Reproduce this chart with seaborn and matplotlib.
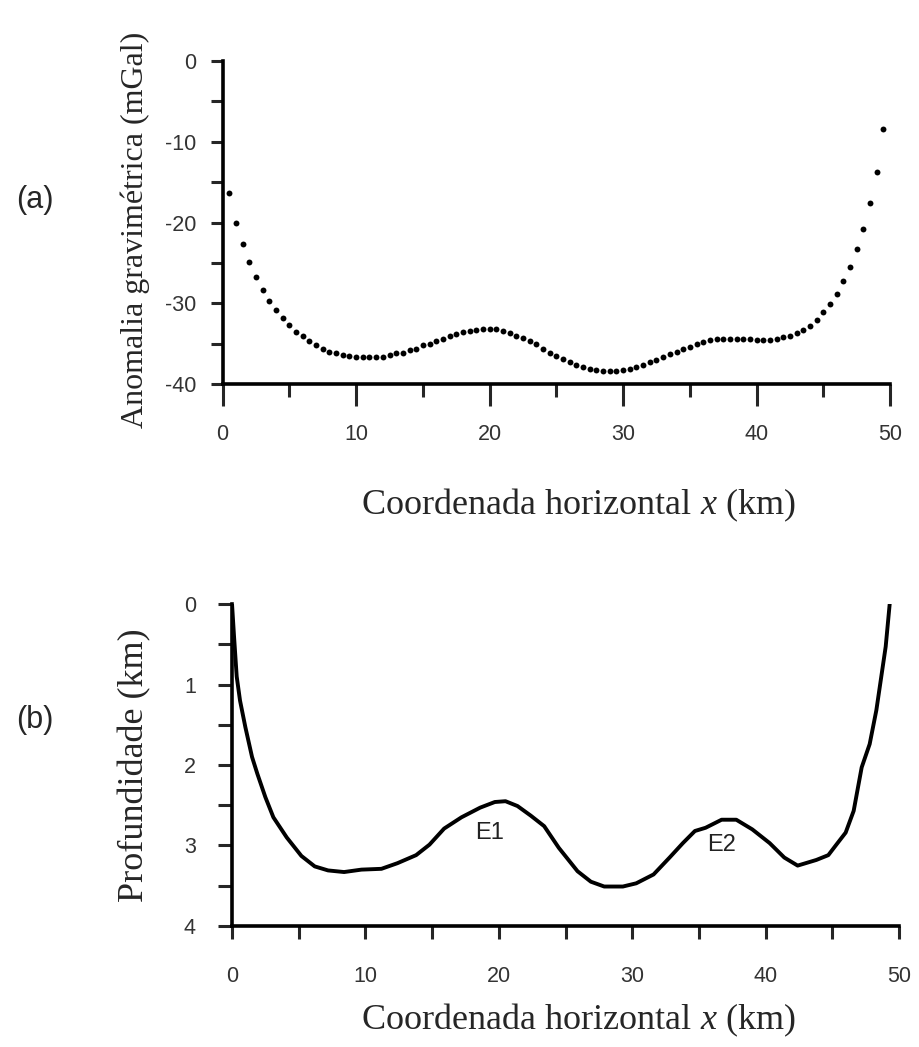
import matplotlib
matplotlib.use("Agg")
import matplotlib.pyplot as plt
import numpy as np
import pandas as pd
import seaborn as sns
from matplotlib.ticker import MultipleLocator

# ---------------- data ----------------
grav_x = [0.5, 1.0, 1.5, 2.0, 2.5, 3.0, 3.5, 4.0, 4.5, 5.0,
          5.5, 6.0, 6.5, 7.0, 7.5, 8.0, 8.5, 9.0, 9.5, 10.0,
          10.5, 11.0, 11.5, 12.0, 12.5, 13.0, 13.5, 14.0, 14.5, 15.0,
          15.5, 16.0, 16.5, 17.0, 17.5, 18.0, 18.5, 19.0, 19.5, 20.0,
          20.5, 21.0, 21.5, 22.0, 22.5, 23.0, 23.5, 24.0, 24.5, 25.0,
          25.5, 26.0, 26.5, 27.0, 27.5, 28.0, 28.5, 29.0, 29.5, 30.0,
          30.5, 31.0, 31.5, 32.0, 32.5, 33.0, 33.5, 34.0, 34.5, 35.0,
          35.5, 36.0, 36.5, 37.0, 37.5, 38.0, 38.5, 39.0, 39.5, 40.0,
          40.5, 41.0, 41.5, 42.0, 42.5, 43.0, 43.5, 44.0, 44.5, 45.0,
          45.5, 46.0, 46.5, 47.0, 47.5, 48.0, 48.5, 49.0, 49.5]
grav_anom = [-16.4, -20.0, -22.7, -24.9, -26.7, -28.3, -29.7, -30.8, -31.8, -32.7,
             -33.5, -34.1, -34.7, -35.2, -35.7, -36.0, -36.2, -36.4, -36.5, -36.6,
             -36.7, -36.7, -36.7, -36.6, -36.4, -36.2, -36.1, -35.8, -35.6, -35.2,
             -35.0, -34.7, -34.4, -34.0, -33.8, -33.6, -33.4, -33.3, -33.2, -33.2,
             -33.2, -33.4, -33.7, -34.0, -34.3, -34.7, -35.1, -35.6, -36.1, -36.5,
             -36.9, -37.3, -37.6, -37.9, -38.1, -38.3, -38.4, -38.4, -38.4, -38.2,
             -38.1, -37.9, -37.6, -37.3, -37.0, -36.7, -36.3, -36.0, -35.6, -35.4,
             -35.0, -34.8, -34.6, -34.4, -34.4, -34.4, -34.4, -34.4, -34.4, -34.5,
             -34.5, -34.5, -34.4, -34.2, -34.0, -33.7, -33.3, -32.8, -32.1, -31.1,
             -30.1, -28.8, -27.2, -25.5, -23.3, -20.8, -17.6, -13.8, -8.4]

depth_x = [0.0, 0.15, 0.35, 0.6, 1.0, 1.5, 1.9, 2.5, 3.1, 4.1,
           5.2, 6.2, 7.2, 8.4, 9.7, 11.2, 12.4, 13.8, 14.8, 15.9,
           17.2, 18.6, 19.7, 20.5, 21.4, 22.4, 23.4, 24.5, 25.9, 26.9,
           27.9, 29.3, 30.3, 31.6, 32.8, 33.8, 34.7, 35.5, 36.7, 37.8,
           39.0, 40.3, 41.4, 42.4, 43.8, 44.7, 45.3, 46.0, 46.6, 47.2,
           47.8, 48.3, 49.0, 49.3]
depth_z = [0.0, 0.4, 0.9, 1.2, 1.53, 1.9, 2.11, 2.4, 2.65, 2.90,
           3.13, 3.26, 3.31, 3.33, 3.30, 3.29, 3.22, 3.12, 2.99, 2.79,
           2.65, 2.53, 2.46, 2.45, 2.51, 2.63, 2.76, 3.03, 3.32, 3.45,
           3.51, 3.51, 3.47, 3.36, 3.15, 2.97, 2.82, 2.78, 2.68, 2.68,
           2.80, 2.97, 3.15, 3.25, 3.18, 3.12, 2.99, 2.84, 2.57, 2.03,
           1.74, 1.32, 0.53, 0.0]

x_ticks = [0, 10, 20, 30, 40, 50]
grav_ticks = [-40, -30, -20, -10, 0]
depth_ticks = [0, 1, 2, 3, 4]
annot_labels = ["E1", "E2"]
annot_x = [19.3, 36.7]
annot_z = [2.84, 3.0]

xlabel_txt = "Coordenada horizontal $x$ (km)"
ylabel_top = "Anomalia gravimétrica (mGal)"
ylabel_bot = "Profundidade (km)"

# ---------------- style ----------------
sns.set_style("ticks")
plt.rcParams["font.family"] = ["Liberation Sans", "DejaVu Sans"]
plt.rcParams["axes.unicode_minus"] = False
plt.rcParams["mathtext.fontset"] = "custom"
plt.rcParams["mathtext.rm"] = "Liberation Serif"
plt.rcParams["mathtext.it"] = "Liberation Serif:italic"

serif = ["Liberation Serif", "DejaVu Serif"]
sans = ["Liberation Sans", "DejaVu Sans"]
tick_color = "#333333"
lab_fs = 23
tick_fs = 15.5

fig = plt.figure(figsize=(9.2, 10.47), dpi=100)
ax1 = fig.add_axes([0.242, 0.6332, 0.7255, 0.3085])
ax2 = fig.add_axes([0.2522, 0.1156, 0.725, 0.3075])

df_g = pd.DataFrame({"x": grav_x, "g": grav_anom})
df_d = pd.DataFrame({"x": depth_x, "z": depth_z})

sns.scatterplot(data=df_g, x="x", y="g", ax=ax1, s=18, color="black",
                linewidth=0, legend=False, clip_on=False)
sns.lineplot(data=df_d, x="x", y="z", ax=ax2, sort=False, estimator=None,
             color="black", linewidth=2.8, legend=False)

for ax in (ax1, ax2):
    for s in ("top", "right"):
        ax.spines[s].set_visible(False)
    for s in ("left", "bottom"):
        ax.spines[s].set_linewidth(2.6)
        ax.spines[s].set_color("black")
    ax.set_xlim(0, 50)
    ax.set_xticks(x_ticks)
    ax.xaxis.set_minor_locator(MultipleLocator(5))
    ax.set_xlabel("")
    ax.set_ylabel("")
    for lab in ax.get_xticklabels() + ax.get_yticklabels():
        lab.set_fontfamily(sans)

# top panel
ax1.set_ylim(-40, 0)
ax1.set_yticks(grav_ticks)
ax1.yaxis.set_minor_locator(MultipleLocator(5))
ax1.tick_params(axis="x", which="major", length=16, width=2.2, pad=13,
                labelsize=tick_fs, labelcolor=tick_color)
ax1.tick_params(axis="x", which="minor", length=9, width=2.2)
ax1.tick_params(axis="y", which="major", length=9, width=2.2, pad=10,
                labelsize=tick_fs, labelcolor=tick_color)
ax1.tick_params(axis="y", which="minor", length=9, width=2.2)

# bottom panel
ax2.set_ylim(4, 0)
ax2.set_yticks(depth_ticks)
ax2.yaxis.set_minor_locator(MultipleLocator(0.5))
ax2.tick_params(axis="x", which="major", length=9, width=2.2, pad=20,
                labelsize=tick_fs, labelcolor=tick_color)
ax2.tick_params(axis="x", which="minor", length=9, width=2.2)
ax2.tick_params(axis="y", which="major", length=10, width=2.2, pad=16,
                labelsize=tick_fs, labelcolor=tick_color)
ax2.tick_params(axis="y", which="minor", length=10, width=2.2)

for lbl, xx, zz in zip(annot_labels, annot_x, annot_z):
    ax2.text(xx, zz, lbl, fontsize=17, family=sans, color="#222222",
             ha="center", va="center")

# axis titles as figure text
fig.text(135 / 920, 1 - 230 / 1047, ylabel_top, rotation=90, ha="center",
         va="center", fontsize=lab_fs, family=serif)
fig.text(578 / 920, 1 - 505 / 1047, xlabel_txt, ha="center", va="center",
         fontsize=26, family=serif)
fig.text(135 / 920, 1 - 765 / 1047, ylabel_bot, rotation=90, ha="center",
         va="center", fontsize=26, family=serif)
fig.text(578 / 920, 1 - 1020 / 1047, xlabel_txt, ha="center", va="center",
         fontsize=26, family=serif)

fig.text(35 / 920, 1 - 200 / 1047, "(a)", ha="center", va="center",
         fontsize=22, family=sans)
fig.text(35 / 920, 1 - 720 / 1047, "(b)", ha="center", va="center",
         fontsize=22, family=sans)

fig.savefig("out.png", dpi=100, facecolor="white")
